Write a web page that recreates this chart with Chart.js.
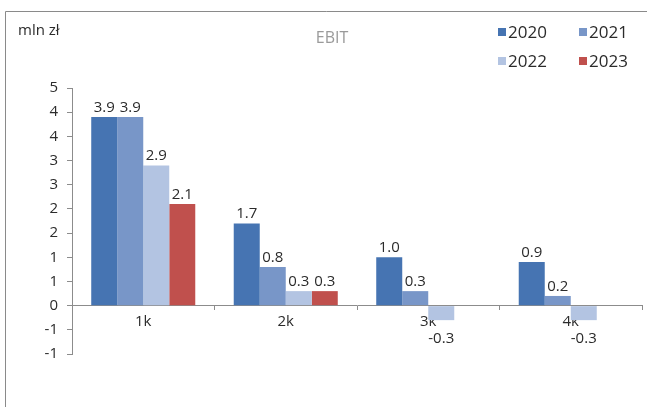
<!DOCTYPE html>
<html>
<head>
<meta charset="utf-8">
<script src="https://cdn.jsdelivr.net/npm/chart.js@4/dist/chart.umd.min.js"></script>
<style>
  html, body { margin: 0; padding: 0; background: #fff; overflow: hidden; }
  canvas { display: block; }
</style>
</head>
<body>
<canvas id="c" width="647" height="407"></canvas>
<script>
// EBIT by size class, in million zloty
const categories = ['1k', '2k', '3k', '4k'];
const seriesNames = ['2020', '2021', '2022', '2023'];
const ebit2020 = [3.9, 1.7, 1.0, 0.9];
const ebit2021 = [3.9, 0.8, 0.3, 0.2];
const ebit2022 = [2.9, 0.3, -0.3, -0.3];
const ebit2023 = [2.1, 0.3, null, null];
const yMin = -1, yMax = 4.5, yStep = 0.5;
const unitLabel = 'mln zł';
const titleText = 'EBIT';

const seriesColors = ['#4674B2', '#7896C8', '#B3C4E2', '#C0504D'];
const FONT = '"Open Sans", "DejaVu Sans", sans-serif';
const TEXT = '#2B2B2B';
const AXIS = '#8C8C8C';

const seriesValues = [ebit2020, ebit2021, ebit2022, ebit2023];

// Integer tick labels rounded half away from zero
function roundLabel(v) {
  const r = Math.sign(v) * Math.round(Math.abs(v));
  return String(r === 0 ? 0 : r);
}

// Outer frame, unit caption, title and two-column legend
const decorations = {
  id: 'decorations',
  afterDraw(chart) {
    const ctx = chart.ctx;
    ctx.save();
    ctx.strokeStyle = '#8A8A8A';
    ctx.lineWidth = 1;
    ctx.beginPath();
    ctx.moveTo(5.5, 407);
    ctx.lineTo(5.5, 11.5);
    ctx.lineTo(647, 11.5);
    ctx.stroke();

    ctx.fillStyle = TEXT;
    ctx.font = '15px ' + FONT;
    ctx.textAlign = 'left';
    ctx.textBaseline = 'middle';
    ctx.fillText(unitLabel, 18, 31);

    ctx.fillStyle = '#9A9A9A';
    ctx.font = '16px ' + FONT;
    ctx.textAlign = 'center';
    ctx.fillText(titleText, 332, 38);

    const cols = [498, 579];
    const rows = [32, 61];
    ctx.font = '17px ' + FONT;
    ctx.textAlign = 'left';
    chart.data.datasets.forEach((ds, i) => {
      const x = cols[i % 2];
      const y = rows[Math.floor(i / 2)];
      ctx.fillStyle = ds.backgroundColor;
      ctx.fillRect(x, y - 4, 8, 8);
      ctx.fillStyle = TEXT;
      ctx.fillText(ds.label, x + 10, y + 1);
    });
    ctx.restore();
  }
};

// Value labels above positive bars and below negative ones
const valueLabels = {
  id: 'valueLabels',
  afterDatasetsDraw(chart) {
    const ctx = chart.ctx;
    ctx.save();
    ctx.font = '15px ' + FONT;
    ctx.fillStyle = TEXT;
    ctx.textAlign = 'center';
    chart.data.datasets.forEach((ds, di) => {
      const meta = chart.getDatasetMeta(di);
      meta.data.forEach((bar, i) => {
        const v = ds.data[i];
        if (v === null || v === undefined) return;
        const text = v.toFixed(1);
        if (v >= 0) {
          ctx.textBaseline = 'bottom';
          ctx.fillText(text, bar.x, bar.y - 2);
        } else {
          ctx.textBaseline = 'top';
          ctx.fillText(text, bar.x, bar.y + 11);
        }
      });
    });
    ctx.restore();
  }
};

new Chart(document.getElementById('c'), {
  type: 'bar',
  data: {
    labels: categories,
    datasets: seriesNames.map((name, i) => ({
      label: name,
      data: seriesValues[i],
      backgroundColor: seriesColors[i],
      borderWidth: 0,
      barPercentage: 1.0,
      categoryPercentage: 0.73
    }))
  },
  options: {
    responsive: false,
    animation: false,
    devicePixelRatio: 1,
    layout: { padding: { left: 0, right: 5, top: 88, bottom: 53 } },
    plugins: {
      legend: { display: false },
      title: { display: false },
      tooltip: { enabled: false }
    },
    scales: {
      x: {
        position: { y: 0 },
        offset: true,
        grid: {
          offset: true,
          drawOnChartArea: false,
          drawTicks: true,
          tickLength: 4,
          color: AXIS
        },
        border: { display: true, color: AXIS, width: 1 },
        ticks: {
          color: TEXT,
          font: { family: FONT, size: 15 },
          padding: 3,
          maxRotation: 0
        }
      },
      y: {
        min: yMin,
        max: yMax,
        afterFit(scale) { scale.width = 72; },
        grid: {
          drawOnChartArea: false,
          drawTicks: true,
          tickLength: 5,
          color: AXIS
        },
        border: { display: true, color: AXIS, width: 1 },
        ticks: {
          stepSize: yStep,
          color: TEXT,
          font: { family: FONT, size: 15 },
          padding: 9,
          callback: (v) => roundLabel(v)
        }
      }
    }
  },
  plugins: [valueLabels, decorations]
});
</script>
</body>
</html>
